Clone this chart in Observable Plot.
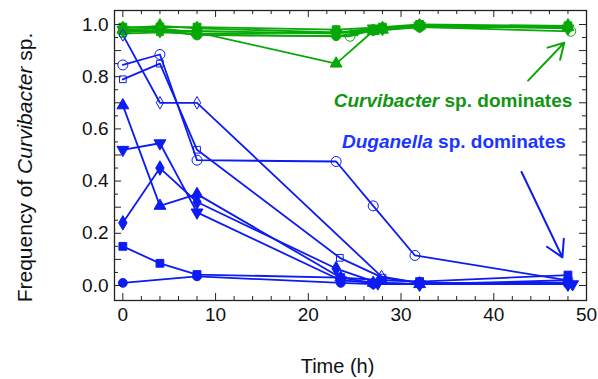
<!DOCTYPE html>
<html>
<head>
<meta charset="utf-8">
<script src="https://cdn.jsdelivr.net/npm/d3@7"></script>
<script src="https://cdn.jsdelivr.net/npm/@observablehq/plot@0.6"></script>
<style>
  html, body { margin: 0; padding: 0; background: #fff; }
  #chart svg { display: block; font-family: "Liberation Sans", Arial, Helvetica, sans-serif; }
</style>
</head>
<body>
<div id="chart"></div>
<script>
// ---- Data (time in h, frequency of Curvibacter sp.) ----
// Curvibacter-dominated replicates (green)
const gTriangle   = [[0,0.980],[4,0.985],[8,0.970],[23,0.850],[27,0.975],[28,0.980],[32,0.995],[48,0.990]];
const gOpenCircle = [[0,0.970],[4,0.980],[8,0.960],[24.5,0.955],[27,0.980],[32,0.990],[48.3,0.974]];
const gDiamond    = [[0,0.985],[4,0.995],[8,0.985],[23,0.970],[28,0.985],[32,0.995],[48,0.995]];
const gCircle     = [[0,0.975],[4,0.975],[8,0.960],[23,0.955],[27,0.975],[32,0.990],[48,0.990]];
const gSquare     = [[0,0.990],[4,0.990],[8,0.990],[23,0.980],[28,0.990],[32,1.000],[48,0.995]];
const gTriDown    = [[0,0.980],[4,0.975],[8,0.975],[23,0.965],[27,0.985],[32,0.995],[48,0.985]];
const gOpenSquare = [[0,0.965],[4,0.970],[8,0.965],[25,0.970],[28,0.985],[32,0.990],[48,0.990]];

// Duganella-dominated replicates (blue)
const bOpenCircle  = [[0,0.845],[4,0.885],[8,0.480],[23,0.475],[27,0.305],[31.5,0.115],[48,0.020]];
const bOpenSquare  = [[0,0.790],[4,0.850],[8,0.520],[23.4,0.106],[28,0.030],[32,0.010],[48,0.010]];
const bOpenDiamond = [[0,0.960],[4,0.700],[8,0.700],[27.9,0.034],[32,0.010],[48,0.005]];
const bTriangle    = [[0,0.690],[4,0.305],[8,0.350],[23.5,0.030],[27,0.010],[32,0.005],[48,0.020]];
const bTriDown     = [[0,0.520],[4,0.545],[8,0.280],[23.5,0.020],[27,0.010],[32,0.005],[48.5,0.005]];
const bDiamond     = [[0,0.240],[4,0.450],[8,0.320],[23,0.065],[27.5,0.010],[32,0.005],[48,0.005]];
const bSquare      = [[0,0.150],[4,0.085],[8,0.042],[23.5,0.030],[28,0.020],[32,0.015],[48,0.040]];
const bCircle      = [[0,0.010],[8,0.035],[23.5,0.010],[27,0.005],[32,0.005],[48,0.005]];

const xTickLabels = [0, 10, 20, 30, 40, 50];
const yTickLabels = [0, 0.2, 0.4, 0.6, 0.8, 1.0];
const xMinorTicks = d3.range(0, 51, 2);
const yMinorTicks = d3.range(0, 21).map(i => +(i * 0.05).toFixed(2));

const xTitle = "Time (h)";
const yTitle = "Frequency of Curvibacter sp.";
const curviLabel = "Curvibacter sp. dominates";
const dugaLabel  = "Duganella sp. dominates";

// annotation anchors (data coordinates)
const curviText = [{x: 35.6, y: 0.709}];
const dugaText  = [{x: 35.7, y: 0.552}];
const curviArrow = [{x1: 43.7, y1: 0.785, x2: 47.6, y2: 0.93}];
const dugaArrow  = [{x1: 43.0, y1: 0.435, x2: 47.4, y2: 0.108}];

// ---- Styling ----
const GREEN = "#07a807";
const BLUE = "#0c1cf2";
const GREEN_TEXT = "#129512";
const BLUE_TEXT = "#1a36ff";
const sq3 = Math.sqrt(3);
const triDown = {
  draw(context, size) {
    const y = -Math.sqrt(size / (sq3 * 3));
    context.moveTo(0, -y * 2);
    context.lineTo(-sq3 * y, y);
    context.lineTo(sq3 * y, y);
    context.closePath();
  }
};

const series = [
  {pts: gTriangle, color: GREEN, symbol: "triangle", open: false},
  {pts: gOpenCircle, color: GREEN, symbol: "circle", open: true},
  {pts: gDiamond, color: GREEN, symbol: "diamond", open: false},
  {pts: gCircle, color: GREEN, symbol: "circle", open: false},
  {pts: gSquare, color: GREEN, symbol: "square", open: false},
  {pts: gTriDown, color: GREEN, symbol: triDown, open: false},
  {pts: gOpenSquare, color: GREEN, symbol: "square", open: true},
  {pts: bOpenCircle, color: BLUE, symbol: "circle", open: true},
  {pts: bOpenSquare, color: BLUE, symbol: "square", open: true},
  {pts: bOpenDiamond, color: BLUE, symbol: "diamond", open: true},
  {pts: bTriangle, color: BLUE, symbol: "triangle", open: false},
  {pts: bTriDown, color: BLUE, symbol: triDown, open: false},
  {pts: bDiamond, color: BLUE, symbol: "diamond", open: false},
  {pts: bSquare, color: BLUE, symbol: "square", open: false},
  {pts: bCircle, color: BLUE, symbol: "circle", open: false}
];

const W = 598, H = 379;
const mL = 114, mR = 12, mT = 10, mB = 79;
const innerW = W - mL - mR, innerH = H - mT - mB;

const marks = [];
for (const s of series) {
  marks.push(Plot.line(s.pts, {x: d => d[0], y: d => d[1], stroke: s.color, strokeWidth: 1.8}));
}
for (const s of series) {
  const openCircle = s.open && s.symbol === "circle";
  marks.push(Plot.dot(s.pts, {
    x: d => d[0], y: d => d[1],
    symbol: s.symbol,
    r: openCircle ? 5 : (s.open ? 3.8 : 4.4),
    fill: s.open ? "none" : s.color,
    stroke: s.color,
    strokeWidth: 1
  }));
}

// inward ticks on all four sides (major / minor)
const majX = v => v % 10 === 0;
const majY = v => Math.abs(Math.round(v * 10) - v * 10) < 1e-6;
const xMaj = xMinorTicks.filter(majX), xMin = xMinorTicks.filter(v => !majX(v));
const yMaj = yMinorTicks.filter(majY), yMin = yMinorTicks.filter(v => !majY(v));
const TC = "#222";
for (const [vals, len] of [[xMaj, 7], [xMin, 4]]) {
  marks.push(Plot.tickX(vals, {x: d => d, stroke: TC, strokeWidth: 1, insetTop: innerH - len}));
  marks.push(Plot.tickX(vals, {x: d => d, stroke: TC, strokeWidth: 1, insetBottom: innerH - len}));
}
for (const [vals, len] of [[yMaj, 7], [yMin, 4]]) {
  marks.push(Plot.tickY(vals, {y: d => d, stroke: TC, strokeWidth: 1, insetRight: innerW - len}));
  marks.push(Plot.tickY(vals, {y: d => d, stroke: TC, strokeWidth: 1, insetLeft: innerW - len}));
}
marks.push(Plot.frame({stroke: TC, strokeWidth: 1.3}));

// axes (labels only)
marks.push(Plot.axisX(xTickLabels, {anchor: "bottom", tickSize: 0, tickPadding: 7, fontSize: 19, fill: "#111", label: null}));
marks.push(Plot.axisY(yTickLabels, {anchor: "left", tickSize: 0, tickPadding: 6, fontSize: 19, fill: "#111", label: null,
  tickFormat: d3.format(".1f")}));

// axis titles
marks.push(Plot.text([xTitle], {text: d => d, frameAnchor: "bottom", textAnchor: "middle", dx: -13, dy: 72, fontSize: 20, fill: "#111"}));
marks.push(Plot.text([yTitle], {text: d => d, frameAnchor: "left", textAnchor: "middle", rotate: -90, dx: -89, dy: 12, fontSize: 21, fill: "#111"}));

// annotations
marks.push(Plot.text(curviText, {x: "x", y: "y", text: () => curviLabel, fontSize: 19, fontWeight: "bold", fill: GREEN_TEXT}));
marks.push(Plot.text(dugaText, {x: "x", y: "y", text: () => dugaLabel, fontSize: 19, fontWeight: "bold", fill: BLUE_TEXT}));
marks.push(Plot.arrow(curviArrow, {x1: "x1", y1: "y1", x2: "x2", y2: "y2", stroke: GREEN, strokeWidth: 2, headLength: 14}));
marks.push(Plot.arrow(dugaArrow, {x1: "x1", y1: "y1", x2: "x2", y2: "y2", stroke: BLUE, strokeWidth: 2, headLength: 14}));

const chart = Plot.plot({
  width: W, height: H,
  marginLeft: mL, marginRight: mR, marginTop: mT, marginBottom: mB,
  x: {domain: [-0.9, 50], axis: null},
  y: {domain: [-0.0575, 1.0536], axis: null},
  style: {fontFamily: '"Liberation Sans", Arial, Helvetica, sans-serif', background: "#fff"},
  marks
});

// italicise the genus names (keep as real text)
function italicise(svg, full, word) {
  d3.select(svg).selectAll("text").filter(function () { return this.textContent === full; }).each(function () {
    const t = d3.select(this);
    const [a, b] = full.split(word);
    t.text(null);
    if (a) t.append("tspan").text(a);
    t.append("tspan").attr("font-style", "italic").text(word);
    t.append("tspan").text(b);
  });
}
italicise(chart, yTitle, "Curvibacter");
italicise(chart, curviLabel, "Curvibacter");
italicise(chart, dugaLabel, "Duganella");

document.getElementById("chart").appendChild(chart);
</script>
</body>
</html>
